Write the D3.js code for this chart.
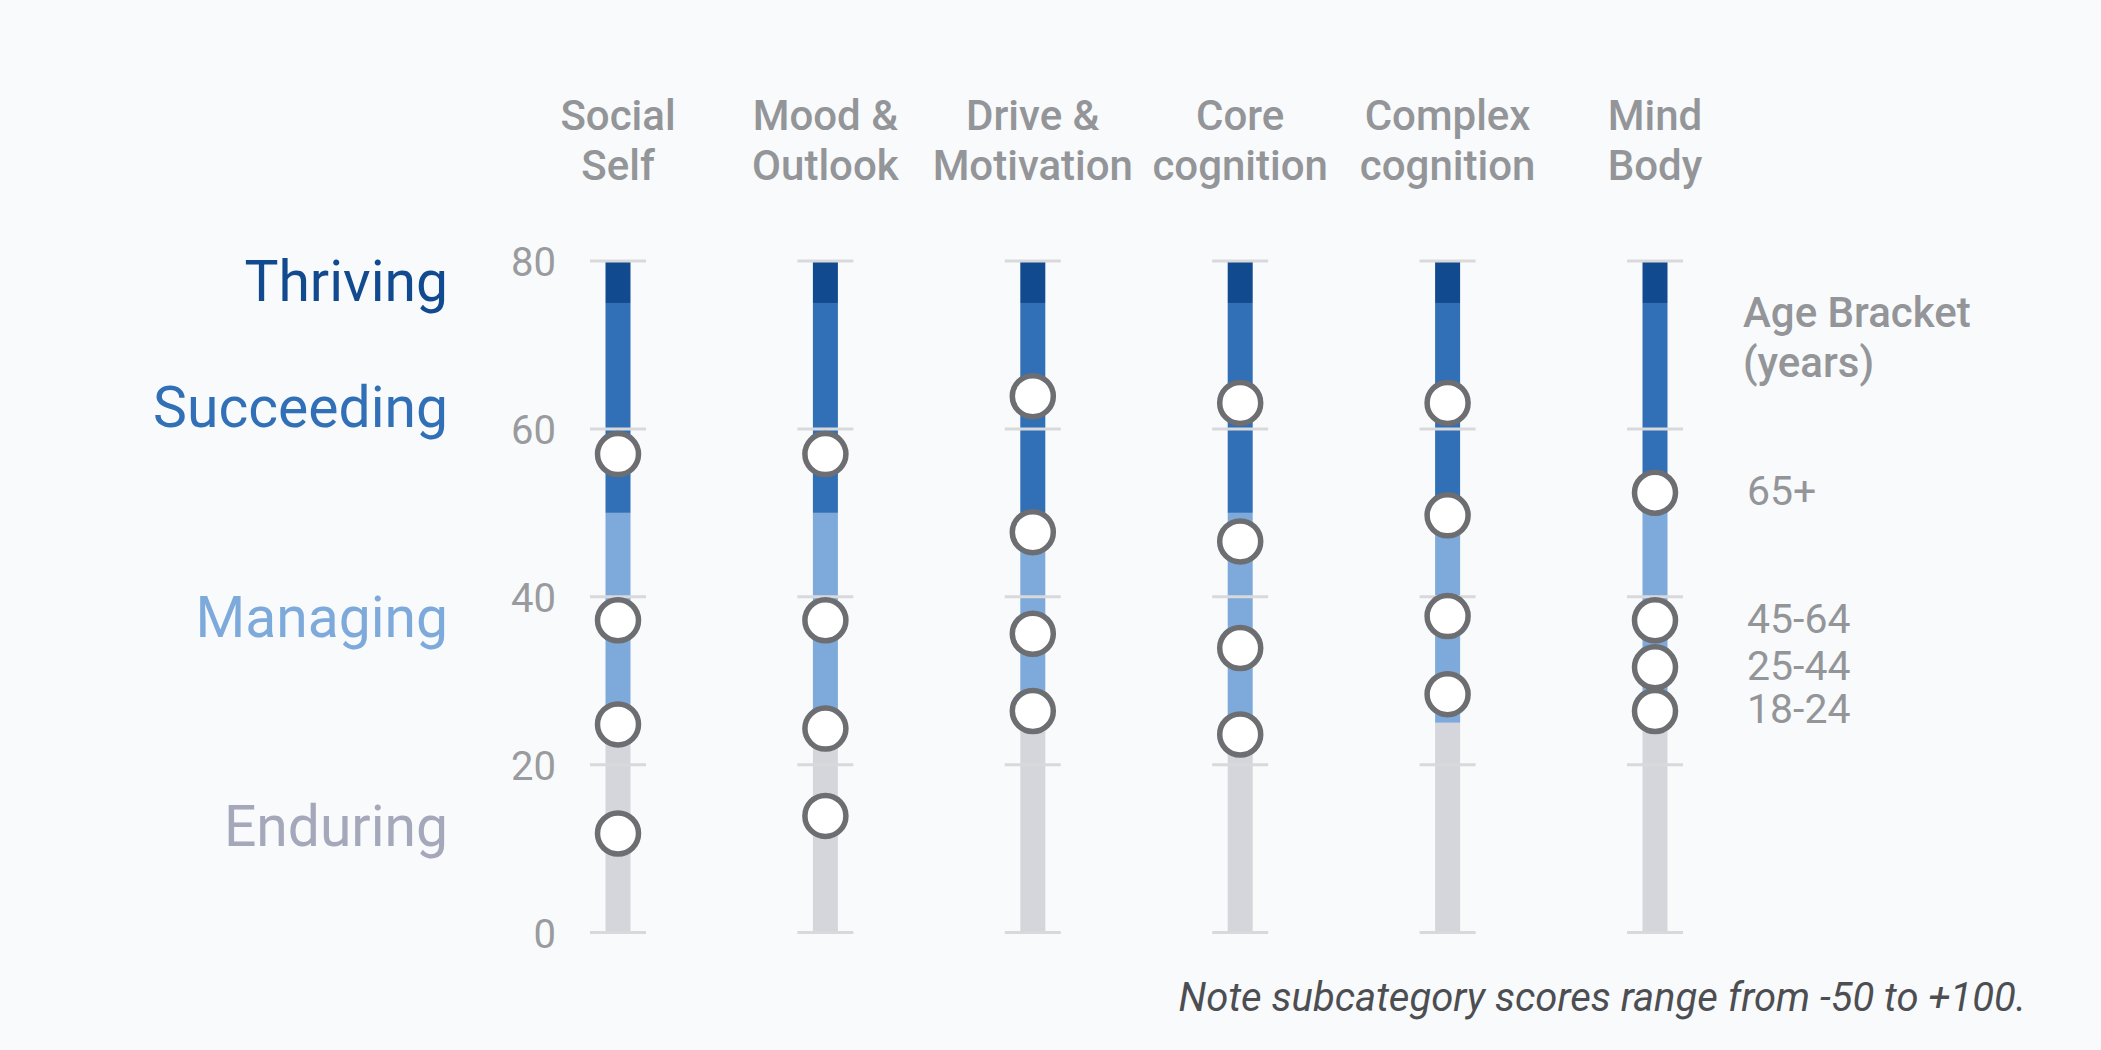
<!DOCTYPE html>
<html>
<head>
<meta charset="utf-8">
<script src="https://cdn.jsdelivr.net/npm/d3@7"></script>
<style>
  body { margin: 0; background: #f8fafc; }
  svg { display: block; font-family: Roboto, "Noto Sans", sans-serif; }
</style>
</head>
<body>
<div id="chart"></div>
<script>
// data
const categories = [
  ["Social", "Self"],
  ["Mood &", "Outlook"],
  ["Drive &", "Motivation"],
  ["Core", "cognition"],
  ["Complex", "cognition"],
  ["Mind", "Body"]
];
const ageBrackets = ["65+", "45-64", "25-44", "18-24"];
// one row per category, values in ageBrackets order
const scores = [
  [57.0, 37.2, 24.8, 11.8],
  [57.0, 37.2, 24.3, 13.9],
  [63.9, 47.7, 35.6, 26.4],
  [63.1, 46.6, 33.9, 23.6],
  [63.1, 49.7, 37.7, 28.4],
  [52.4, 37.2, 31.6, 26.4]
];
const levels = ["Enduring", "Managing", "Succeeding", "Thriving"];
const levelBreaks = [0, 25, 50, 75, 80];
const yTicks = [0, 20, 40, 60, 80];

const bandColors = ["#d5d6dc", "#7eaadb", "#316fb6", "#124a8f"];
const labelColors = ["#a4a8ba", "#7eaadb", "#316fb6", "#124a8f"];

const width = 2101;
const height = 1050;

const svg = d3.select("#chart")
  .append("svg")
  .attr("width", width)
  .attr("height", height);

const x = d3.scalePoint()
  .domain(d3.range(categories.length))
  .range([618, 1655]);

const y = d3.scaleLinear()
  .domain([0, 80])
  .range([932.6, 261]);

const barW = 25;
const tickW = 56;

// bars, one rect per level band
const cols = svg.append("g").attr("class", "cols")
  .selectAll("g")
  .data(categories)
  .join("g")
  .attr("transform", (d, i) => `translate(${x(i)},0)`);

cols.selectAll("rect")
  .data(levels.map((l, i) => ({ lo: levelBreaks[i], hi: levelBreaks[i + 1], i })))
  .join("rect")
  .attr("x", -barW / 2)
  .attr("width", barW)
  .attr("y", d => y(d.hi))
  .attr("height", d => y(d.lo) - y(d.hi))
  .attr("fill", d => bandColors[d.i]);

// short grid ticks across every bar
cols.selectAll("line")
  .data(yTicks)
  .join("line")
  .attr("x1", -tickW / 2)
  .attr("x2", tickW / 2)
  .attr("y1", d => y(d))
  .attr("y2", d => y(d))
  .attr("stroke", "#d9d9dc")
  .attr("stroke-width", 3);

// circles
cols.selectAll("circle")
  .data((d, i) => scores[i])
  .join("circle")
  .attr("cx", 0)
  .attr("cy", d => y(d))
  .attr("r", 20.5)
  .attr("fill", "#fff")
  .attr("stroke", "#6d6e72")
  .attr("stroke-width", 5.5);

// category headers
const head = svg.append("g")
  .selectAll("text")
  .data(categories)
  .join("text")
  .attr("x", (d, i) => x(i))
  .attr("y", 130)
  .attr("text-anchor", "middle")
  .attr("fill", "#939598")
  .attr("font-size", 42)
  .attr("font-weight", 500);

head.selectAll("tspan")
  .data(d => d)
  .join("tspan")
  .attr("x", function () { return d3.select(this.parentNode).attr("x"); })
  .attr("dy", (d, i) => i === 0 ? 0 : 50)
  .text(d => d);

// y axis labels
const yAxis = svg.append("g")
  .attr("transform", "translate(556,0)")
  .call(d3.axisLeft(y).tickValues(yTicks).tickSize(0).tickPadding(0));
yAxis.select(".domain").remove();
yAxis.selectAll("text")
  .attr("font-family", "Roboto, sans-serif")
  .attr("font-size", 40)
  .attr("fill", "#9a9b9e")
  .attr("dy", "0.36em");

// level names
svg.append("g")
  .selectAll("text")
  .data(levels)
  .join("text")
  .attr("x", 448)
  .attr("y", (d, i) => y((levelBreaks[i] + levelBreaks[i + 1]) / 2))
  .attr("dy", "0.33em")
  .attr("text-anchor", "end")
  .attr("font-size", 57)
  .attr("fill", (d, i) => labelColors[i])
  .text(d => d);

// age legend next to last column
const last = scores[scores.length - 1];
svg.append("text")
  .attr("x", 1743)
  .attr("y", 327)
  .attr("font-size", 42)
  .attr("font-weight", 500)
  .attr("fill", "#939598")
  .selectAll("tspan")
  .data(["Age Bracket", "(years)"])
  .join("tspan")
  .attr("x", 1743)
  .attr("dy", (d, i) => i === 0 ? 0 : 50)
  .text(d => d);

svg.append("g")
  .selectAll("text")
  .data(ageBrackets)
  .join("text")
  .attr("x", 1747)
  .attr("y", (d, i) => y(last[i]))
  .attr("dy", "0.3em")
  .attr("font-size", 41)
  .attr("fill", "#939598")
  .text(d => d);

// note
svg.append("text")
  .attr("x", 2026)
  .attr("y", 1011)
  .attr("text-anchor", "end")
  .attr("font-size", 40)
  .attr("font-style", "italic")
  .attr("fill", "#4d4e52")
  .text("Note subcategory scores range from -50 to +100.");
</script>
</body>
</html>
